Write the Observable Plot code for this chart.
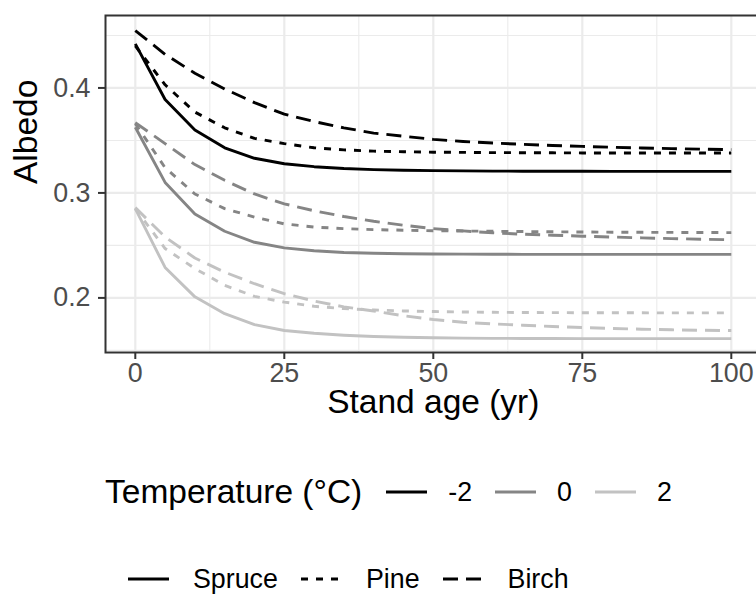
<!DOCTYPE html>
<html>
<head>
<meta charset="utf-8">
<script src="https://cdn.jsdelivr.net/npm/d3@7"></script>
<script src="https://cdn.jsdelivr.net/npm/@observablehq/plot@0.6"></script>
<style>
  body { margin: 0; background: #fff; }
  #wrap { position: relative; width: 756px; height: 594px; overflow: hidden; font-family: "Liberation Sans", Arial, sans-serif; }
  .leg { position: absolute; display: flex; align-items: center; height: 40px; color: #000; white-space: nowrap; }
  .leg svg { display: block; flex: none; }
</style>
</head>
<body>
<div id="wrap"></div>
<script>
// ---- data ----
const ages = [0, 5, 10, 15, 20, 25, 30, 35, 40, 45, 50, 55, 60, 65, 70, 75, 80, 85, 90, 95, 100];
const temperatures = ["-2", "0", "2"];
const species = ["Spruce", "Pine", "Birch"];

const spruce_m2 = [0.442, 0.389, 0.360, 0.343, 0.333, 0.3278, 0.325, 0.3232, 0.3222, 0.3216, 0.3212, 0.321, 0.3208, 0.3207, 0.3206, 0.3206, 0.3205, 0.3205, 0.3205, 0.3205, 0.3205];
const pine_m2   = [0.440, 0.403, 0.377, 0.362, 0.352, 0.347, 0.343, 0.341, 0.3398, 0.3392, 0.3388, 0.3386, 0.3384, 0.3383, 0.3382, 0.3381, 0.3381, 0.338, 0.338, 0.338, 0.338];
const birch_m2  = [0.4546, 0.432, 0.414, 0.399, 0.386, 0.375, 0.368, 0.362, 0.357, 0.354, 0.351, 0.349, 0.3475, 0.3463, 0.3452, 0.3443, 0.3435, 0.3428, 0.3422, 0.3417, 0.3412];

const spruce_0 = [0.3625, 0.310, 0.280, 0.2635, 0.253, 0.2477, 0.2449, 0.2433, 0.2425, 0.242, 0.2418, 0.2417, 0.2416, 0.2415, 0.2415, 0.2415, 0.2415, 0.2415, 0.2415, 0.2415, 0.2415];
const pine_0   = [0.366, 0.324, 0.299, 0.285, 0.277, 0.2705, 0.2675, 0.266, 0.265, 0.2645, 0.264, 0.2637, 0.2635, 0.2632, 0.263, 0.2628, 0.2626, 0.2625, 0.2624, 0.2623, 0.2622];
const birch_0  = [0.367, 0.347, 0.327, 0.312, 0.299, 0.2896, 0.283, 0.2775, 0.273, 0.2692, 0.266, 0.2638, 0.262, 0.2607, 0.2597, 0.2588, 0.258, 0.2572, 0.2565, 0.2559, 0.2554];

const spruce_2 = [0.285, 0.229, 0.201, 0.185, 0.1745, 0.169, 0.1663, 0.1645, 0.1633, 0.1625, 0.162, 0.1617, 0.1615, 0.1614, 0.1613, 0.1612, 0.1612, 0.1612, 0.1612, 0.1612, 0.1612];
const pine_2   = [0.285, 0.247, 0.228, 0.212, 0.2015, 0.196, 0.192, 0.1898, 0.1885, 0.1876, 0.187, 0.1866, 0.1863, 0.1861, 0.186, 0.1859, 0.1858, 0.1858, 0.1857, 0.1857, 0.1857];
const birch_2  = [0.286, 0.258, 0.238, 0.2245, 0.2135, 0.204, 0.197, 0.1915, 0.1875, 0.183, 0.1794, 0.1768, 0.1752, 0.174, 0.1728, 0.1718, 0.1709, 0.1702, 0.1696, 0.1692, 0.1689];

const xTicks = [0, 25, 50, 75, 100];
const yTicks = [0.2, 0.3, 0.4];
const xMinor = [12.5, 37.5, 62.5, 87.5];
const yMinor = [0.15, 0.25, 0.35, 0.45];

// ---- table ----
const seriesTable = {
  Spruce: {"-2": spruce_m2, "0": spruce_0, "2": spruce_2},
  Pine:   {"-2": pine_m2,   "0": pine_0,   "2": pine_2},
  Birch:  {"-2": birch_m2,  "0": birch_0,  "2": birch_2}
};
const rows = [];
for (const sp of species) for (const t of temperatures) {
  seriesTable[sp][t].forEach((v, i) => rows.push({species: sp, temp: t, age: ages[i], albedo: v}));
}

const colors = ["#000000", "#858585", "#c2c2c2"];
const dashes = {Spruce: null, Pine: "7,8", Birch: "15,8"};
const LW = 2.9;

const chart = Plot.plot({
  width: 756,
  height: 430,
  marginLeft: 105,
  marginRight: -4.6,
  marginTop: 15,
  marginBottom: 78,
  style: {fontFamily: "'Liberation Sans', Arial, sans-serif", background: "#fff", overflow: "visible"},
  x: {domain: [-5, 105]},
  y: {domain: [0.148, 0.469]},
  color: {domain: temperatures, range: colors},
  marks: [
    Plot.gridX(xMinor, {stroke: "#ebebeb", strokeOpacity: 1, strokeWidth: 1.1}),
    Plot.gridY(yMinor, {stroke: "#ebebeb", strokeOpacity: 1, strokeWidth: 1.1}),
    Plot.gridX(xTicks, {stroke: "#ebebeb", strokeOpacity: 1, strokeWidth: 2.2}),
    Plot.gridY(yTicks, {stroke: "#ebebeb", strokeOpacity: 1, strokeWidth: 2.2}),
    ...species.map(sp => Plot.line(rows.filter(d => d.species === sp), {
      x: "age", y: "albedo", z: "temp", stroke: "temp",
      strokeWidth: LW, strokeDasharray: dashes[sp] || undefined,
      strokeLinecap: "butt", strokeLinejoin: "round"
    })),
    Plot.frame({stroke: "#333333", strokeWidth: 2}),
    Plot.axisX(xTicks, {tickSize: 7, tickPadding: 3, stroke: "#333333", strokeWidth: 2, fill: "#4d4d4d", fontSize: 26.8, label: null, tickFormat: d3.format("d")}),
    Plot.axisY(yTicks, {tickSize: 7, tickPadding: 8, stroke: "#333333", strokeWidth: 2, fill: "#4d4d4d", fontSize: 26.8, label: null, tickFormat: d3.format(".1f")}),
    Plot.text(["Stand age (yr)"], {frameAnchor: "bottom", dy: 50, fontSize: 33.5, fill: "#000", lineAnchor: "middle"}),
    Plot.text(["Albedo"], {frameAnchor: "left", dx: -79, rotate: -90, fontSize: 33.5, fill: "#000", lineAnchor: "middle"})
  ]
});

const wrap = document.getElementById("wrap");
wrap.appendChild(chart);

// ---- legends ----
function keySvg(color, dash) {
  const s = d3.create("svg").attr("width", 41).attr("height", 10);
  s.append("line").attr("x1", 0).attr("x2", 41).attr("y1", 5).attr("y2", 5)
    .attr("stroke", color).attr("stroke-width", LW)
    .attr("stroke-dasharray", dash || null).attr("stroke-linecap", "butt");
  return s.node();
}

const leg1 = d3.select(wrap).append("div").attr("class", "leg")
  .style("left", "105px").style("top", "472px");
leg1.append("span").style("font-size", "33.5px").text("Temperature (°C)");
temperatures.forEach((t, i) => {
  const k = keySvg(colors[i], null);
  k.style.marginLeft = (i === 0 ? 24 : 23) + "px";
  leg1.node().appendChild(k);
  leg1.append("span").style("font-size", "26.8px").style("margin-left", "21px").text(t);
});

const leg2 = d3.select(wrap).append("div").attr("class", "leg")
  .style("left", "128px").style("top", "559px");
species.forEach((sp, i) => {
  const k = keySvg("#000", dashes[sp]);
  k.style.marginLeft = (i === 0 ? 0 : 23) + "px";
  leg2.node().appendChild(k);
  leg2.append("span").style("font-size", "26.8px").style("margin-left", "24px").text(sp);
});
</script>
</body>
</html>
